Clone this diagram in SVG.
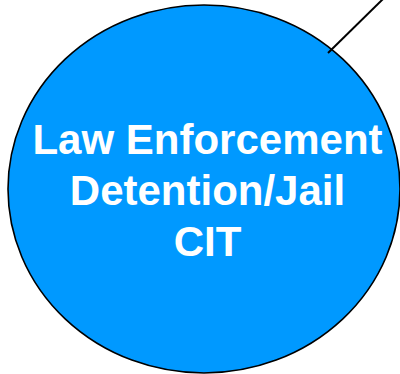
<svg xmlns="http://www.w3.org/2000/svg" width="400" height="374" viewBox="0 0 400 374">
<style>
.node{fill:#0099FF;stroke:#000;stroke-width:1.6}
.lbl{font-family:"Liberation Sans",Arial,sans-serif;font-weight:bold;font-size:42px;fill:#fff;text-anchor:middle}
.conn{stroke:#000;stroke-width:2;fill:none}
</style>
<g id="node-law">
<ellipse class="node" cx="204" cy="189" rx="196" ry="184"/>
<text class="lbl" x="207.5" y="154">Law Enforcement</text>
<text class="lbl" x="207.5" y="205">Detention/Jail</text>
<text class="lbl" x="207.5" y="256">CIT</text>
</g>
<g id="connectors">
<line class="conn" x1="328" y1="53" x2="383" y2="-1"/>
</g>
</svg>
